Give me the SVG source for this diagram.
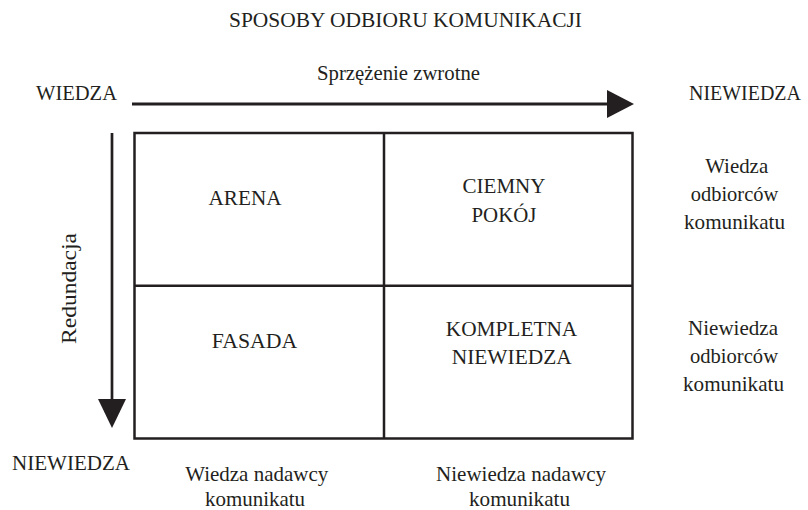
<svg xmlns="http://www.w3.org/2000/svg" width="808" height="510" viewBox="0 0 808 510">
  <style>
    text { font-family: "Liberation Serif", "Times New Roman", serif; font-size: 21px; fill: #231f20; text-anchor: middle; }
    .ln { stroke: #231f20; fill: none; }
    .box { stroke: #231f20; stroke-width: 2.5; fill: #ffffff; }
    .head { fill: #231f20; }
  </style>
  <rect width="808" height="510" fill="#ffffff"/>

  <g id="title">
    <text x="405.5" y="27" textLength="353" lengthAdjust="spacingAndGlyphs">SPOSOBY ODBIORU KOMUNIKACJI</text>
  </g>

  <g id="axis-labels">
    <text x="76.5" y="100" textLength="81" lengthAdjust="spacingAndGlyphs">WIEDZA</text>
    <text x="745" y="100" textLength="112" lengthAdjust="spacingAndGlyphs">NIEWIEDZA</text>
    <text x="398.5" y="80" textLength="163" lengthAdjust="spacingAndGlyphs">Sprzężenie zwrotne</text>
    <text x="71" y="470" textLength="118" lengthAdjust="spacingAndGlyphs">NIEWIEDZA</text>
    <text transform="translate(76,288.5) rotate(-90)" x="0" y="0" textLength="111" lengthAdjust="spacingAndGlyphs">Redundacja</text>
  </g>

  <g id="connectors">
    <line class="ln" x1="132" y1="104" x2="609" y2="104" stroke-width="3"/>
    <polygon class="head" points="607,90 634,104 607,118"/>
    <line class="ln" x1="112" y1="133" x2="112" y2="401" stroke-width="2.7"/>
    <polygon class="head" points="98,399 126,399 112,428"/>
  </g>

  <g id="matrix">
    <rect class="box" x="134.5" y="133" width="498" height="305.5"/>
    <line class="ln" x1="384" y1="133" x2="384" y2="438.5" stroke-width="2.5"/>
    <line class="ln" x1="134.5" y1="285.7" x2="632.5" y2="285.7" stroke-width="2.5"/>
  </g>

  <g id="arena">
    <text x="245" y="205" textLength="73" lengthAdjust="spacingAndGlyphs">ARENA</text>
  </g>
  <g id="ciemny-pokoj">
    <text x="504" y="192.5" textLength="83" lengthAdjust="spacingAndGlyphs">CIEMNY</text>
    <text x="504" y="221.5" textLength="65" lengthAdjust="spacingAndGlyphs">POKÓJ</text>
  </g>
  <g id="fasada">
    <text x="254.5" y="347.5" textLength="85.5" lengthAdjust="spacingAndGlyphs">FASADA</text>
  </g>
  <g id="kompletna-niewiedza">
    <text x="511.5" y="336" textLength="131.5" lengthAdjust="spacingAndGlyphs">KOMPLETNA</text>
    <text x="511.7" y="364.3" textLength="120" lengthAdjust="spacingAndGlyphs">NIEWIEDZA</text>
  </g>

  <g id="row-labels">
    <text x="736.7" y="173.3" textLength="63" lengthAdjust="spacingAndGlyphs">Wiedza</text>
    <text x="734.5" y="201" textLength="87.5" lengthAdjust="spacingAndGlyphs">odbiorców</text>
    <text x="734.5" y="229.3" textLength="101" lengthAdjust="spacingAndGlyphs">komunikatu</text>
    <text x="733" y="335" textLength="90" lengthAdjust="spacingAndGlyphs">Niewiedza</text>
    <text x="734" y="362.7" textLength="88" lengthAdjust="spacingAndGlyphs">odbiorców</text>
    <text x="733.5" y="390.7" textLength="101" lengthAdjust="spacingAndGlyphs">komunikatu</text>
  </g>

  <g id="column-labels">
    <text x="256.7" y="480.5" textLength="143" lengthAdjust="spacingAndGlyphs">Wiedza nadawcy</text>
    <text x="255" y="506" textLength="100" lengthAdjust="spacingAndGlyphs">komunikatu</text>
    <text x="521" y="480.5" textLength="170" lengthAdjust="spacingAndGlyphs">Niewiedza nadawcy</text>
    <text x="519.5" y="506" textLength="101" lengthAdjust="spacingAndGlyphs">komunikatu</text>
  </g>
</svg>
